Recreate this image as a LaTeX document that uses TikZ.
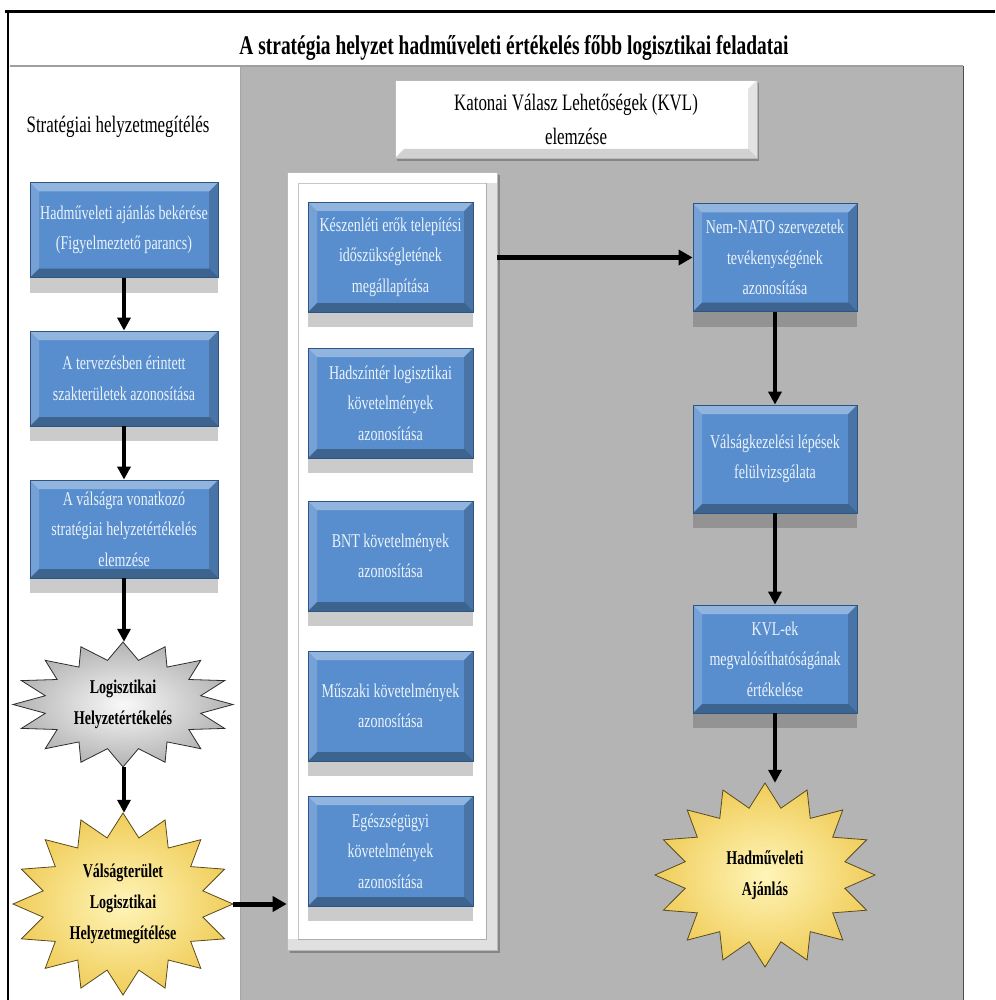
\documentclass[tikz,border=0pt]{standalone}
\usepackage{fontspec}
\setmainfont[FakeStretch=0.72]{Liberation Serif}
\usetikzlibrary{shapes.geometric,shadows,arrows.meta}
\definecolor{panel}{RGB}{180,180,180}
\definecolor{boxblue}{RGB}{88,142,206}
\definecolor{boxdark}{RGB}{45,85,130}
\definecolor{boxtext}{RGB}{236,243,251}
\definecolor{starY}{RGB}{240,205,90}
\definecolor{starYin}{RGB}{255,245,185}
\definecolor{starYline}{RGB}{90,75,30}
\newcommand\drawstar[6]{%
  \path[#6] plot[samples at={0,1,...,31}, variable=\k]
    ({#1+#3*(mod(\k,2)==0?1:#5)*cos(90+\k*11.25)},
     {#2+#4*(mod(\k,2)==0?1:#5)*sin(90+\k*11.25)}) -- cycle;}
\tikzset{
  bevel/.style 2 args={path picture={
    \coordinate (pbsw) at (path picture bounding box.south west);
    \coordinate (pbne) at (path picture bounding box.north east);
    \coordinate (pbnw) at (path picture bounding box.north west);
    \coordinate (pbse) at (path picture bounding box.south east);
    \fill[white,opacity=#1] (pbnw) -- (pbne) -- ([shift={(-9pt,-9pt)}]pbne) -- ([shift={(9pt,-9pt)}]pbnw) -- cycle;
    \fill[white,opacity=#1*0.5] (pbnw) -- ([shift={(9pt,-9pt)}]pbnw) -- ([shift={(9pt,9pt)}]pbsw) -- (pbsw) -- cycle;
    \fill[black,opacity=#2] (pbsw) -- ([shift={(9pt,9pt)}]pbsw) -- ([shift={(-9pt,9pt)}]pbse) -- (pbse) -- cycle;
    \fill[black,opacity=#2*0.6] (pbne) -- ([shift={(-9pt,-9pt)}]pbne) -- ([shift={(-9pt,9pt)}]pbse) -- (pbse) -- cycle;
  }},
  bluebox/.style={rectangle, inner sep=3pt, fill=boxblue, draw=boxdark, line width=0.8pt,
    text=boxtext, align=center, font=\fontsize{19.5}{30.5}\selectfont,
    drop shadow={shadow xshift=0pt, shadow yshift=-15pt, fill=black!80, opacity=0.25},
    bevel={0.35}{0.3}},
  lbox/.style={bluebox, minimum width=188, minimum height=95},
  mbox/.style={bluebox, minimum width=165, minimum height=110},
  rbox/.style={bluebox, minimum width=164, minimum height=108},
  starnode/.style={ellipse, inner sep=0pt, align=center, text=black,
    font=\bfseries\fontsize{19.5}{31}\selectfont},
  arr/.style={line width=3.5pt, -{Triangle[length=13pt,width=13pt]}},
  arrthick/.style={line width=5pt, -{Triangle[length=14pt,width=15pt]}},
}
\begin{document}
\begin{tikzpicture}[x=1pt,y=-1pt]
\useasboundingbox (0,0) rectangle (995,1000);
\fill[white] (0,0) rectangle (995,1000);
% frame and panels
\fill[panel] (240,66) rectangle (963,1000);
\draw[gray!60!black, line width=0.8pt] (963,66) -- (963,1000);
\draw[gray!70, line width=0.6pt] (240,66) -- (240,1000);
\draw[gray!75, line width=1.8pt] (10,66) -- (963,66);
\draw[black, line width=3pt] (5,12) -- (995,12);
\draw[black, line width=2pt] (8,12) -- (8,1000);
% texts
\node[font=\bfseries\fontsize{27}{30}\selectfont] (title) at (514,48)
  {A stratégia helyzet hadműveleti értékelés főbb logisztikai feladatai};
\node[font=\fontsize{23.5}{26}\selectfont] (hdr) at (118,127) {Stratégiai helyzetmegítélés};
% KVL box
\node[rectangle, minimum width=362, minimum height=78, fill=white, draw=gray!55,
  line width=0.6pt, align=center, font=\fontsize{23.5}{34}\selectfont,
  drop shadow={shadow xshift=2pt, shadow yshift=-3pt, fill=black, opacity=0.25},
  bevel={0.0}{0.18}] (kvl) at (576,119) {Katonai Válasz Lehetőségek (KVL)\\elemzése};
% container
\node[rectangle, minimum width=210, minimum height=778, fill=white, draw=gray!55,
  line width=0.6pt, drop shadow={shadow xshift=3pt, shadow yshift=-3pt, fill=black, opacity=0.25},
  path picture={
    \draw[gray!45, line width=0.8pt] ([shift={(11pt,-11pt)}]path picture bounding box.north west)
      rectangle ([shift={(-11pt,11pt)}]path picture bounding box.south east);
    \fill[black,opacity=0.12] ([shift={(-11pt,-11pt)}]path picture bounding box.north east)
      rectangle (path picture bounding box.south east);
    \fill[black,opacity=0.12] ([shift={(0pt,11pt)}]path picture bounding box.south west)
      rectangle ([shift={(-11pt,0pt)}]path picture bounding box.south east);
  }] (cont) at (392,561) {};
% left column
\node[lbox] (L1) at (124,230) {Hadműveleti ajánlás bekérése\\(Figyelmeztető parancs)};
\node[lbox] (L2) at (124,378.5) {A tervezésben érintett\\szakterületek azonosítása};
\node[lbox, minimum height=98] (L3) at (124,529) {A válságra vonatkozó\\stratégiai helyzetértékelés\\elemzése};
% stars left
\drawstar{123}{704.5}{110}{62.5}{0.72}{draw=gray!35!black, line width=0.8pt, inner color=gray!5, outer color=gray!60}
\node[starnode, minimum width=220, minimum height=125] (gstar) at (123,704.5) {Logisztikai\\Helyzetértékelés};
\drawstar{123}{904}{110}{91}{0.74}{draw=starYline, line width=0.8pt, inner color=starYin, outer color=starY}
\node[starnode, minimum width=220, minimum height=182] (ystar) at (123,904) {Válságterület\\Logisztikai\\Helyzetmegítélése};
% middle column
\node[mbox] (M1) at (390.5,257) {Készenléti erők telepítési\\időszükségletének\\megállapítása};
\node[mbox] (M2) at (390.5,403) {Hadszíntér logisztikai\\követelmények\\azonosítása};
\node[mbox] (M3) at (390.5,556) {BNT követelmények\\azonosítása};
\node[mbox] (M4) at (390.5,706) {Műszaki követelmények\\azonosítása};
\node[mbox] (M5) at (390.5,851) {Egészségügyi\\követelmények\\azonosítása};
% right column
\node[rbox] (R1) at (775,257.5) {Nem-NATO szervezetek\\tevékenységének\\azonosítása};
\node[rbox] (R2) at (775,459) {Válságkezelési lépések\\felülvizsgálata};
\node[rbox] (R3) at (775,659) {KVL-ek\\megvalósíthatóságának\\értékelése};
\drawstar{765}{875}{110}{92}{0.74}{draw=starYline, line width=0.8pt, inner color=starYin, outer color=starY}
\node[starnode, minimum width=220, minimum height=184] (rstar) at (765,875) {Hadműveleti\\Ajánlás};
% connectors
\draw[arr] (L1) -- (L2);
\draw[arr] (L2) -- (L3);
\draw[arr] (L3.south) -- (L3.south |- gstar.north);
\draw[arr] (gstar.south -| L3.south) -- (L3.south |- ystar.north);
\draw[arrthick] (ystar.east) -- (ystar.east -| cont.west);
\draw[arrthick] (cont.east |- R1.west) -- (R1.west);
\draw[arr] (R1) -- (R2);
\draw[arr] (R2) -- (R3);
\draw[arr] (R3.south) -- (R3.south |- rstar.north);
\end{tikzpicture}
\end{document}
